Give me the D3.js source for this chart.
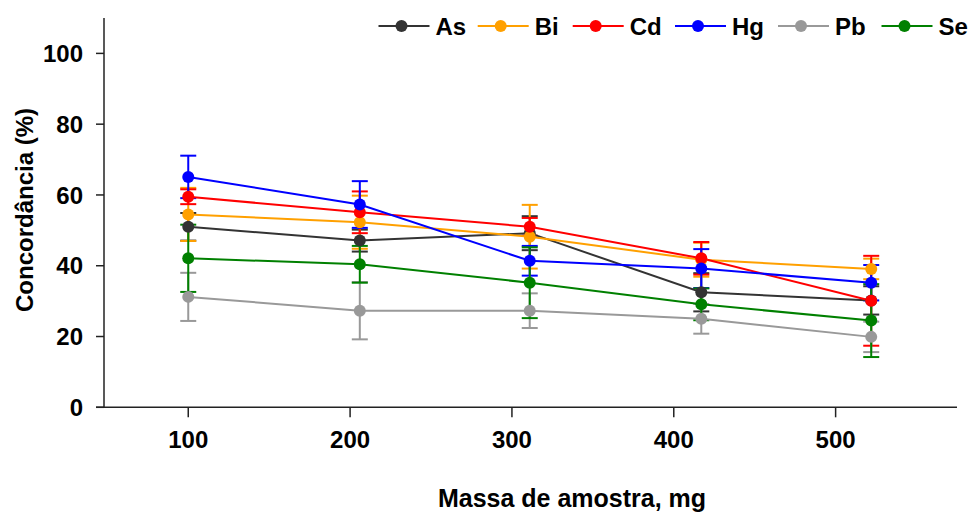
<!DOCTYPE html>
<html>
<head>
<meta charset="utf-8">
<script src="https://cdn.jsdelivr.net/npm/d3@7"></script>
<style>
  body { margin: 0; background: #fff; }
  svg { font-family: 'Liberation Sans', Arial, sans-serif; }
  .axis-text { font-size: 24px; font-weight: bold; fill: #000; }
</style>
</head>
<body>
<svg id="chart" width="970" height="514"></svg>
<script>
// massa de amostra (mg)
const masses = [100, 206, 311, 417, 522]
const xTicks = [100, 200, 300, 400, 500]
const yTicks = [0, 20, 40, 60, 80, 100]

const elements = ['As', 'Bi', 'Cd', 'Hg', 'Pb', 'Se']
const colors = ['#333333', '#ffa000', '#ff0000', '#0000ff', '#999999', '#008000']

// concordância média (%) e desvio
const asMean = [51.0, 47.1, 49.2, 32.5, 30.2]
const asSd = [3.9, 3.1, 4.8, 5.4, 4.0]
const biMean = [54.5, 52.3, 48.2, 41.7, 39.1]
const biSd = [7.5, 7.5, 9.0, 4.8, 2.9]
const cdMean = [59.5, 55.1, 51.0, 42.1, 30.1]
const cdSd = [2.1, 5.9, 2.5, 4.6, 12.7]
const hgMean = [65.1, 57.3, 41.4, 39.2, 35.2]
const hgSd = [6.0, 6.6, 4.2, 5.5, 5.0]
const pbMean = [31.2, 27.3, 27.3, 25.0, 19.9]
const pbSd = [6.8, 8.1, 4.9, 4.2, 4.3]
const seMean = [42.1, 40.4, 35.2, 29.1, 24.5]
const seSd = [9.5, 5.2, 10.0, 4.5, 10.3]

const means = [asMean, biMean, cdMean, hgMean, pbMean, seMean]
const sds = [asSd, biSd, cdSd, hgSd, pbSd, seSd]

const series = elements.map((name, k) => ({
  name,
  color: colors[k],
  points: masses.map((m, i) => ({ x: m, y: means[k][i], sd: sds[k][i] })),
}))

const svg = d3.select('#chart')

const xScale = d3.scaleLinear().domain([43, 575]).range([96, 957])
const yScale = d3.scaleLinear().domain([0, 110]).range([407.3, 18])

// eixo y
const yAxisG = svg.append('g').attr('transform', 'translate(104,0)')
yAxisG.append('line')
  .attr('x1', 0).attr('x2', 0)
  .attr('y1', yScale(110)).attr('y2', yScale(0))
  .attr('stroke', '#222').attr('stroke-width', 1.5)
yAxisG.selectAll('line.tick')
  .data(yTicks)
  .join('line')
  .attr('class', 'tick')
  .attr('x1', -8).attr('x2', 0)
  .attr('y1', d => yScale(d)).attr('y2', d => yScale(d))
  .attr('stroke', '#222').attr('stroke-width', 1.5)
yAxisG.selectAll('text')
  .data(yTicks)
  .join('text')
  .attr('class', 'axis-text')
  .attr('x', -21)
  .attr('y', d => yScale(d))
  .attr('dy', '0.36em')
  .attr('text-anchor', 'end')
  .text(d => d)

// eixo x
const xAxisG = svg.append('g').attr('transform', `translate(0,${yScale(0)})`)
xAxisG.append('line')
  .attr('x1', 96).attr('x2', 957)
  .attr('y1', 0).attr('y2', 0)
  .attr('stroke', '#222').attr('stroke-width', 1.5)
xAxisG.selectAll('line.tick')
  .data(xTicks)
  .join('line')
  .attr('class', 'tick')
  .attr('x1', d => xScale(d)).attr('x2', d => xScale(d))
  .attr('y1', 0).attr('y2', 10)
  .attr('stroke', '#222').attr('stroke-width', 1.5)
xAxisG.selectAll('text')
  .data(xTicks)
  .join('text')
  .attr('class', 'axis-text')
  .attr('x', d => xScale(d))
  .attr('y', 41)
  .attr('text-anchor', 'middle')
  .text(d => d)

// títulos dos eixos
svg.append('text')
  .attr('class', 'axis-text')
  .attr('transform', 'translate(33,210) rotate(-90)')
  .attr('text-anchor', 'middle')
  .text('Concordância (%)')

svg.append('text')
  .attr('class', 'axis-text')
  .attr('x', 572)
  .attr('y', 507)
  .attr('text-anchor', 'middle')
  .style('font-size', '25px')
  .text('Massa de amostra, mg')

const plot = svg.append('g')
const capW = 8

// barras de erro
series.forEach(s => {
  const g = plot.append('g').attr('stroke', s.color).attr('stroke-width', 2)
  g.selectAll('line.v')
    .data(s.points)
    .join('line')
    .attr('class', 'v')
    .attr('x1', d => xScale(d.x)).attr('x2', d => xScale(d.x))
    .attr('y1', d => yScale(d.y + d.sd)).attr('y2', d => yScale(d.y - d.sd))
  g.selectAll('line.top')
    .data(s.points)
    .join('line')
    .attr('class', 'top')
    .attr('x1', d => xScale(d.x) - capW).attr('x2', d => xScale(d.x) + capW)
    .attr('y1', d => yScale(d.y + d.sd)).attr('y2', d => yScale(d.y + d.sd))
  g.selectAll('line.bot')
    .data(s.points)
    .join('line')
    .attr('class', 'bot')
    .attr('x1', d => xScale(d.x) - capW).attr('x2', d => xScale(d.x) + capW)
    .attr('y1', d => yScale(d.y - d.sd)).attr('y2', d => yScale(d.y - d.sd))
})

// linhas
const line = d3.line().x(d => xScale(d.x)).y(d => yScale(d.y))
series.forEach(s => {
  plot.append('path')
    .datum(s.points)
    .attr('d', line)
    .attr('fill', 'none')
    .attr('stroke', s.color)
    .attr('stroke-width', 2)
})

// pontos
series.forEach(s => {
  plot.append('g')
    .selectAll('circle')
    .data(s.points)
    .join('circle')
    .attr('cx', d => xScale(d.x))
    .attr('cy', d => yScale(d.y))
    .attr('r', 6)
    .attr('fill', s.color)
})

// legenda
const legendX = [378.5, 477.7, 572.7, 675, 778, 881.5]
const legend = svg.append('g').attr('transform', 'translate(0,26)')
series.forEach((s, k) => {
  const item = legend.append('g').attr('transform', `translate(${legendX[k]},0)`)
  item.append('line')
    .attr('x1', 0).attr('x2', 51)
    .attr('y1', 0).attr('y2', 0)
    .attr('stroke', s.color).attr('stroke-width', 2)
  item.append('circle')
    .attr('cx', 23).attr('cy', 0).attr('r', 6)
    .attr('fill', s.color)
  item.append('text')
    .attr('class', 'axis-text')
    .attr('x', 57)
    .attr('dy', '0.36em')
    .text(s.name)
})
</script>
</body>
</html>
